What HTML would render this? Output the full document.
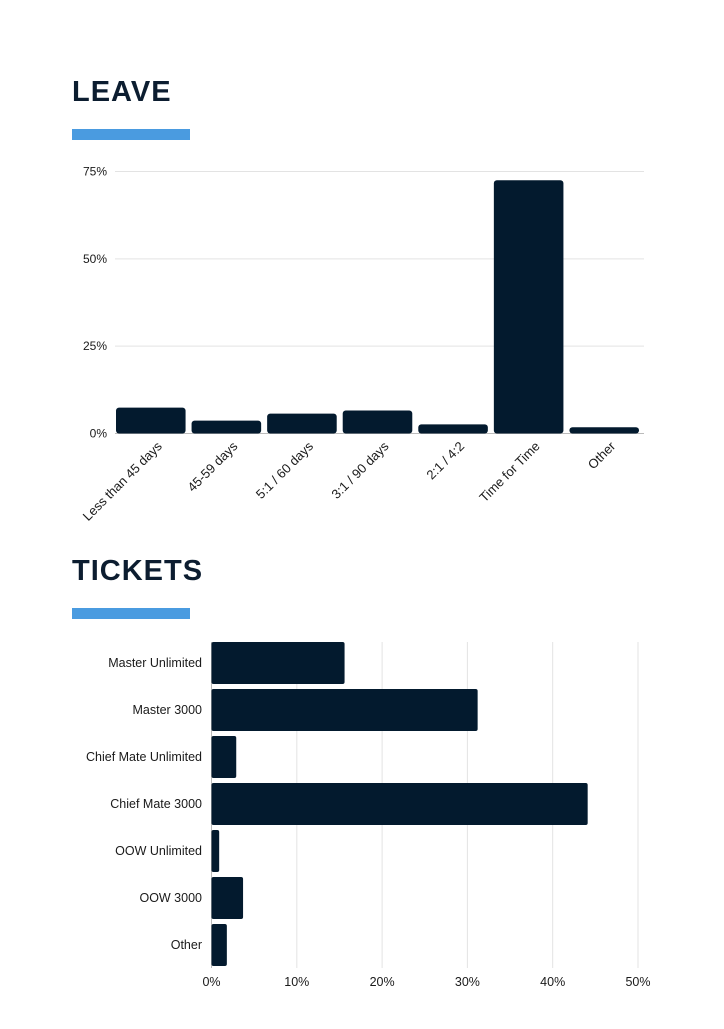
<!DOCTYPE html>
<html><head><meta charset="utf-8"><style>
body{margin:0;background:#fff;width:724px;height:1024px;overflow:hidden;font-family:"Liberation Sans",sans-serif}
svg text{font-family:"Liberation Sans",sans-serif;fill:#1a1a1a}
</style></head><body>
<svg width="724" height="1024">
<text x="72" y="101" font-size="29" font-weight="bold" letter-spacing="1" style="fill:#0c1d30">LEAVE</text>
<rect x="72" y="129" width="118" height="11" fill="#4a9be0"/>
<g id="leave"></g>
<text x="72" y="580" font-size="29" font-weight="bold" letter-spacing="1" style="fill:#0c1d30">TICKETS</text>
<rect x="72" y="608" width="118" height="11" fill="#4a9be0"/>
<g id="tickets"></g>
</svg>
<script>
const leaveCats=["Less than 45 days","45-59 days","5:1 / 60 days","3:1 / 90 days","2:1 / 4:2","Time for Time","Other"];
const leaveVals=[7.4,3.7,5.7,6.6,2.6,72.5,1.8];
const leaveTicks=[0,25,50,75];
const ticketCats=["Master Unlimited","Master 3000","Chief Mate Unlimited","Chief Mate 3000","OOW Unlimited","OOW 3000","Other"];
const ticketVals=[15.6,31.2,2.9,44.1,0.9,3.7,1.8];
const ticketTicks=[0,10,20,30,40,50];
const NS="http://www.w3.org/2000/svg";
function mk(p,t,a){const e=document.createElementNS(NS,t);for(const k in a)e.setAttribute(k,a[k]);p.appendChild(e);return e;}
const L=document.getElementById('leave');
const ly=v=>433.5-v*(262/75);
const lx0=115,lx1=644,slot=(lx1-lx0)/leaveCats.length;
leaveTicks.forEach(t=>{
 const g=mk(L,'line',{x1:lx0,x2:lx1,y1:ly(t),y2:ly(t),stroke:t===0?'#bbb':'#e3e3e3','stroke-width':1});
 
 
 const tx=mk(L,'text',{x:107,y:ly(t)+4,'font-size':12,'text-anchor':'end'});
 tx.textContent=t+'%';
 
 
});
leaveVals.forEach((v,i)=>{
 const x=lx0+i*slot+1;
 const r=mk(L,'rect',{x:x,y:ly(v),width:slot-6,height:ly(0)-ly(v),rx:3,fill:'#031a2e'});
 
 
 const cx=x+(slot-6)/2+12;
 const tx=mk(L,'text',{x:cx,y:447,'font-size':13,'text-anchor':'end',transform:`rotate(-45 ${cx} 447)`});
 tx.textContent=leaveCats[i];
 
 
});
const T=document.getElementById('tickets');
const tx_=v=>211.5+v*(426.5/50);
const rowTop=642,step=47,bh=42;
ticketTicks.forEach(t=>{
 const g=mk(T,'line',{x1:tx_(t),x2:tx_(t),y1:642,y2:968,stroke:t===0?'#bbb':'#e3e3e3','stroke-width':1});
 
 
 const tt=mk(T,'text',{x:tx_(t),y:986,'font-size':12.5,'text-anchor':'middle'});
 tt.textContent=t+'%';
 
 
});
ticketVals.forEach((v,i)=>{
 const y=rowTop+i*step;
 const r=mk(T,'rect',{x:tx_(0),y:y,width:tx_(v)-tx_(0),height:bh,rx:2,fill:'#031a2e'});
 
 
 const tt=mk(T,'text',{x:202,y:y+bh/2+4,'font-size':12.5,'text-anchor':'end'});
 tt.textContent=ticketCats[i];
 
 
});
</script>
</body></html>
